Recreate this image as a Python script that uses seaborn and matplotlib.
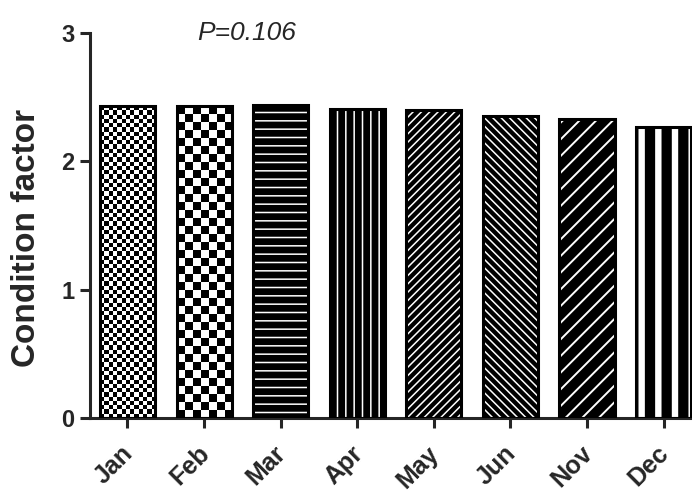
import numpy as np
import pandas as pd
import matplotlib.pyplot as plt
import seaborn as sns
from matplotlib.patches import Rectangle
from matplotlib.transforms import ScaledTranslation

months = ['Jan', 'Feb', 'Mar', 'Apr', 'May', 'Jun', 'Nov', 'Dec']
condition = [2.43, 2.43, 2.44, 2.41, 2.40, 2.35, 2.33, 2.27]
p_label = 'P=0.106'

# fill for each bar: ('checker', cell px) or ('hatch', pattern, hatch linewidth)
fills = [
    ('checker', 4.3),
    ('checker', 8.0),
    ('hatch', '--', 1.1),
    ('hatch', '||', 1.1),
    ('hatch', '////', 1.1),
    ('hatch', '\\\\\\\\', 1.1),
    ('hatch', '//', 1.4),
    ('hatch', '|', 4.6),
]

sns.set_style('ticks')
plt.rcParams['font.family'] = ['Liberation Sans', 'DejaVu Sans']


def hatch_lw(patch, lw):
    # per-bar hatch line width
    if hasattr(patch, 'set_hatch_linewidth'):
        patch.set_hatch_linewidth(lw)
    orig = patch.draw

    def draw(renderer):
        with plt.rc_context({'hatch.linewidth': lw}):
            orig(renderer)
    patch.draw = draw


df = pd.DataFrame({'month': months, 'cf': condition})

fig = plt.figure(figsize=(6.92, 4.97), dpi=100)
ax = fig.add_axes([0.130, 0.159, 0.87, 0.775])
sns.barplot(data=df, x='month', y='cf', color='black', saturation=1,
            width=0.72, errorbar=None, ax=ax)
ax.set_xlim(-0.49, 7.37)
ax.set_ylim(0, 3)

# pixel scale of the data units, for the checker textures
o = ax.transData.transform((0, 0))
u = ax.transData.transform((1, 1))
sx, sy = u[0] - o[0], u[1] - o[1]

for p, f in zip(list(ax.patches), fills):
    x, w, h = p.get_x(), p.get_width(), p.get_height()
    if f[0] == 'checker':
        p.set_facecolor('none')
        p.set_linewidth(0)
        cols = max(1, int(round(w * sx / f[1])))
        rows = max(1, int(round(h * sy / f[1])))
        grid = np.indices((rows, cols)).sum(axis=0) % 2
        im = ax.imshow(grid, cmap='gray', vmin=0, vmax=1, extent=(x, x + w, 0, h),
                       aspect='auto', interpolation='nearest', origin='lower', zorder=1.5)
        im.set_clip_path(p)
    else:
        p.set_facecolor('black')
        p.set_edgecolor('white')
        p.set_hatch(f[1])
        p.set_linewidth(0)
        hatch_lw(p, f[2])
    ax.add_patch(Rectangle((x, 0), w, h, fill=False, ec='black', lw=2.2, zorder=4))

ax.set_xlim(-0.49, 7.37)
ax.set_ylim(0, 3)
ax.set_yticks([0, 1, 2, 3])
ax.set_xlabel('')
ax.set_ylabel('Condition factor', fontsize=24, fontweight='bold')
ax.yaxis.set_label_coords(-0.08, 0.468)

sns.despine(ax=ax)
for s in ['left', 'bottom']:
    ax.spines[s].set_linewidth(2.2)
ax.tick_params(axis='both', width=2.2, length=7)
ax.tick_params(axis='x', pad=10)
ax.tick_params(axis='y', pad=4)
for lab in ax.get_yticklabels():
    lab.set_fontweight('bold')
    lab.set_fontsize(17)
shift = ScaledTranslation(-5 / 72, 0, fig.dpi_scale_trans)
for lab in ax.get_xticklabels():
    lab.set_fontweight('bold')
    lab.set_fontsize(18)
    lab.set_rotation(45)
    lab.set_ha('right')
    lab.set_rotation_mode('anchor')
    lab.set_transform(lab.get_transform() + shift)

ax.text(1.55, 3.0, p_label, style='italic', fontsize=19, ha='center', va='center')

fig.savefig('out.png', dpi=100)
